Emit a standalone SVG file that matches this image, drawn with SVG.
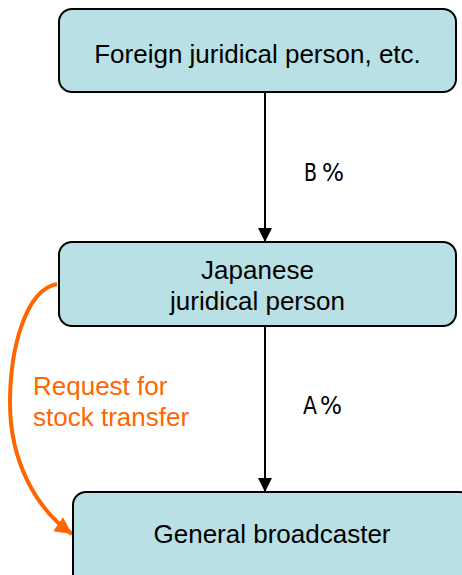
<svg xmlns="http://www.w3.org/2000/svg" width="462" height="575" viewBox="0 0 462 575">
<defs>
<style>
.box{fill:#b9e0e4;stroke:#000;stroke-width:2}
.t{font-family:"Liberation Sans",Arial,sans-serif;font-size:26px;fill:#000;text-anchor:middle}
.pct{font-family:"DejaVu Sans Condensed","DejaVu Sans",sans-serif;font-size:25px;fill:#000}
.or{font-family:"Liberation Sans",Arial,sans-serif;font-size:26px;fill:#ff6600}
.ln{stroke:#000;stroke-width:2;fill:none}
</style>
<marker id="ah" viewBox="0 0 10 10" refX="10" refY="5" markerWidth="14" markerHeight="14" markerUnits="userSpaceOnUse" orient="auto"><path d="M0,0 L10,5 L0,10 z" fill="#000"/></marker>
<marker id="ao" viewBox="0 0 10 10" refX="10" refY="5" markerWidth="19" markerHeight="17" markerUnits="userSpaceOnUse" orient="auto"><path d="M0,0 L10,5 L0,10 z" fill="#ff6600"/></marker>
</defs>
<g id="connectors">
<line class="ln" x1="265" y1="92" x2="265" y2="242" marker-end="url(#ah)"/>
<line class="ln" x1="265" y1="326" x2="265" y2="492" marker-end="url(#ah)"/>
<path d="M57,284 C25,290 10,350 10,403 C10,460 35,508 72,534" stroke="#ff6600" stroke-width="4" fill="none" marker-end="url(#ao)"/>
<text class="pct" y="181"><tspan x="304" textLength="13" lengthAdjust="spacingAndGlyphs">B</tspan><tspan x="322" textLength="22" lengthAdjust="spacingAndGlyphs">%</tspan></text>
<text class="pct" y="414"><tspan x="303" textLength="14" lengthAdjust="spacingAndGlyphs">A</tspan><tspan x="320" textLength="22" lengthAdjust="spacingAndGlyphs">%</tspan></text>
<text class="or" x="33" y="395">Request for</text>
<text class="or" x="33" y="426">stock transfer</text>
</g>
<g id="foreign">
<rect class="box" x="59" y="9" width="397" height="83" rx="13"/>
<text class="t" x="257.5" y="63">Foreign juridical person, etc.</text>
</g>
<g id="japanese">
<rect class="box" x="59" y="242" width="397" height="84" rx="13"/>
<text class="t" x="257.5" y="279">Japanese</text>
<text class="t" x="257.5" y="310">juridical person</text>
</g>
<g id="broadcaster">
<rect class="box" x="73" y="492" width="400" height="100" rx="13"/>
<text class="t" x="272" y="543">General broadcaster</text>
</g>
</svg>
